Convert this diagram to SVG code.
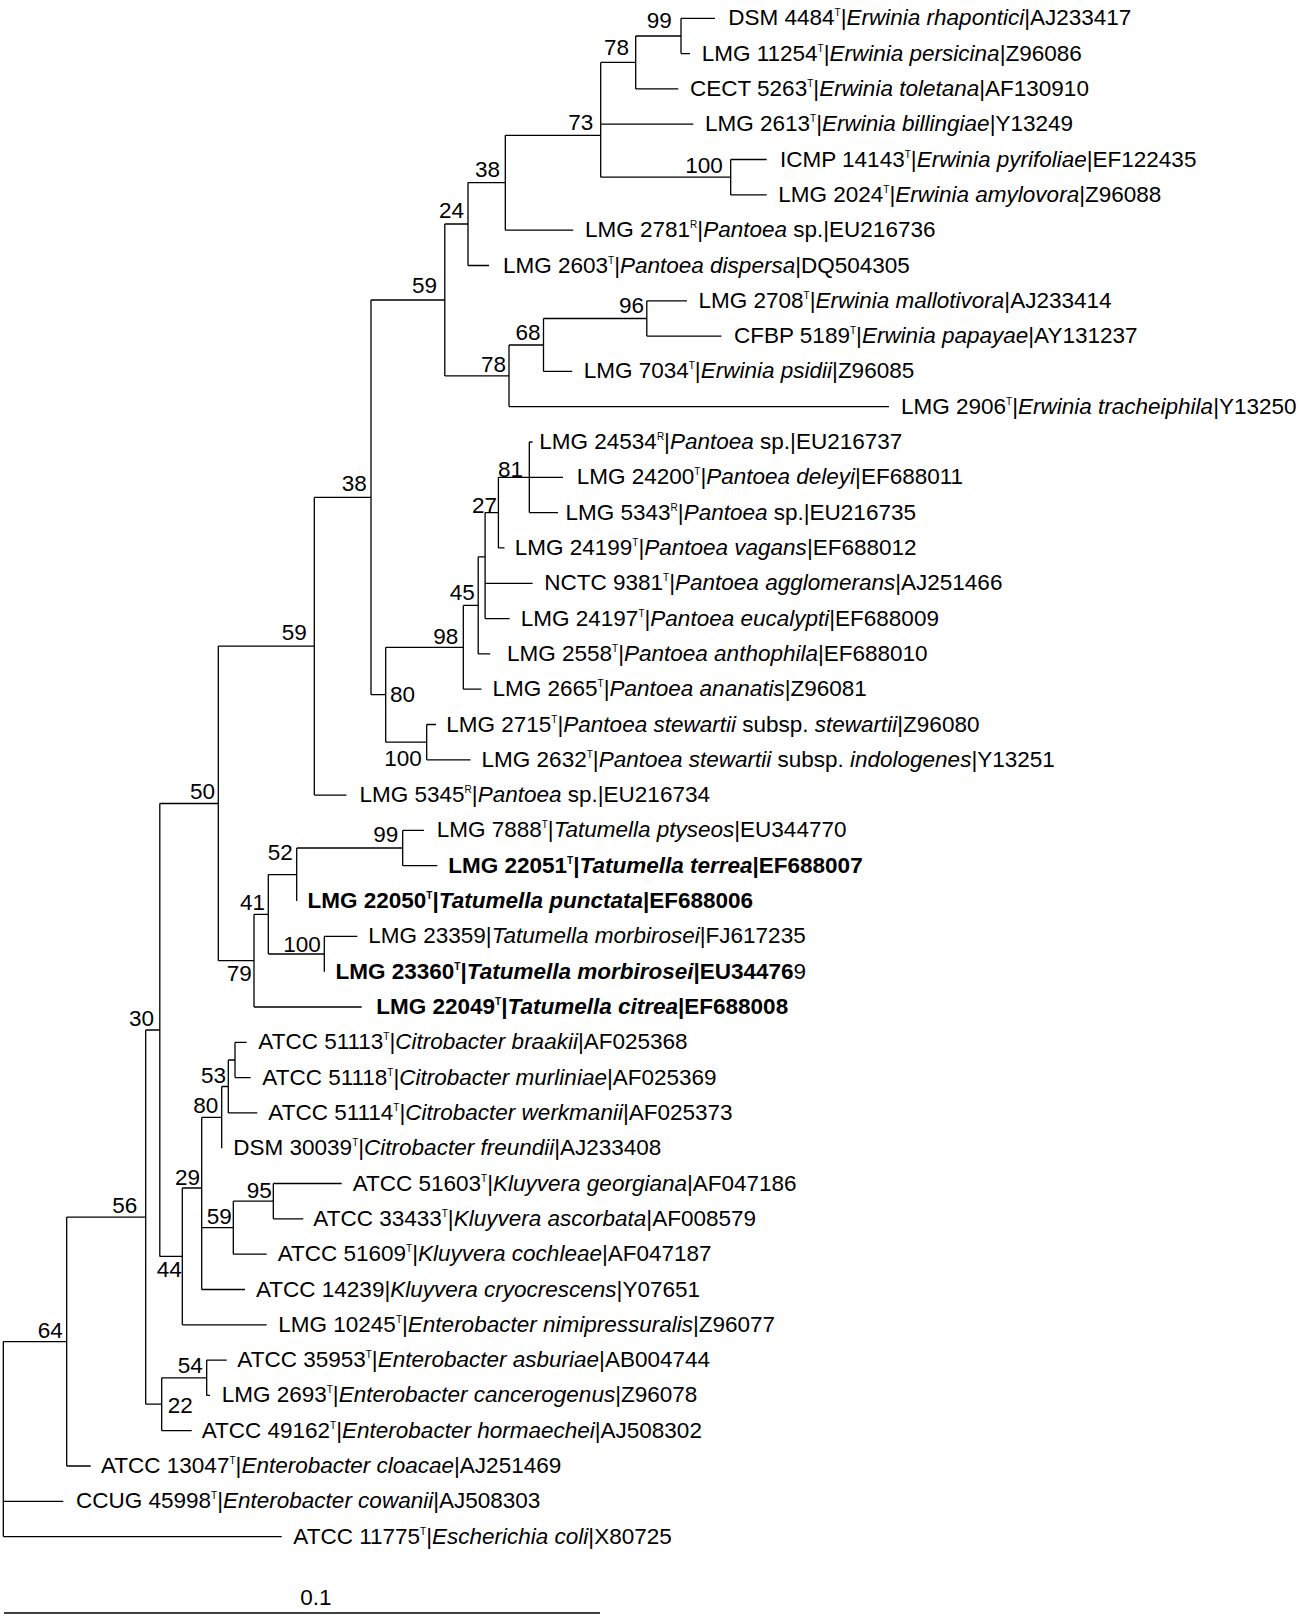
<svg xmlns="http://www.w3.org/2000/svg" width="1302" height="1620" viewBox="0 0 1302 1620">
<style>
text{font-family:"Liberation Sans",Arial,sans-serif;font-size:22.5px;fill:#000}
.s{font-size:10px}
.i{font-style:italic}
.b{font-weight:bold}
.bs{text-anchor:end}
#connectors path{stroke:#000;stroke-width:1.3;fill:none}
</style>
<rect width="1302" height="1620" fill="#fff"/>
<g id="connectors">
<path d="M3.3 1341.6V1536.6M3.3 1341.6H66.7M3.3 1501.3H63.3M3.3 1536.6H281.7"/>
<path d="M66.7 1217.1V1466M66.7 1217.1H145.7M66.7 1466H90.7"/>
<path d="M145.7 1030V1404.2M145.7 1030H159.8M145.7 1404.2H161.7"/>
<path d="M159.8 803.5V1256.4M159.8 803.5H218.3M159.8 1256.4H182.3"/>
<path d="M218.3 646.2V960.7M218.3 646.2H314.3M218.3 960.7H254"/>
<path d="M314.3 497.4V795.1M314.3 497.4H371M314.3 795.1H346.5"/>
<path d="M371 300V694.7M371 300H444.8M371 694.7H385.7"/>
<path d="M444.8 224V375.9M444.8 224H468M444.8 375.9H509"/>
<path d="M468 182.6V265.5M468 182.6H505.3M468 265.5H489"/>
<path d="M505.3 135.3V230.2M505.3 135.3H600.7M505.3 230.2H573.3"/>
<path d="M600.7 62.4V177.2M600.7 62.4H635.7M600.7 124.2H693.3M600.7 177.2H730.7"/>
<path d="M635.7 36V88.9M635.7 36H681M635.7 88.9H678.3"/>
<path d="M681 18.3V53.6M681 18.3H715M681 53.6H690"/>
<path d="M730.7 159.5V194.9M730.7 159.5H766.7M730.7 194.9H766.7"/>
<path d="M509 345V406.7M509 345H543.5M509 406.7H889"/>
<path d="M543.5 318.5V371.4M543.5 318.5H646.8M543.5 371.4H572.2"/>
<path d="M646.8 300.8V336.1M646.8 300.8H687M646.8 336.1H721.5"/>
<path d="M385.7 647.3V742.2M385.7 647.3H463.3M385.7 742.2H426.7"/>
<path d="M463.3 605.4V689.2M463.3 605.4H478.2M463.3 689.2H481.5"/>
<path d="M478.2 556.8V653.9M478.2 556.8H485.1M478.2 653.9H490.2"/>
<path d="M485.1 512.6V618.6M485.1 512.6H498.4M485.1 583.3H532.6M485.1 618.6H509.6"/>
<path d="M498.4 477.3V547.9M498.4 477.3H529.3M498.4 547.9H504.5"/>
<path d="M529.3 442V512.6M529.3 442H532.6M529.3 477.3H563M529.3 512.6H558"/>
<path d="M426.7 724.5V759.8M426.7 724.5H436M426.7 759.8H470.5"/>
<path d="M254 914.3V1007M254 914.3H268.3M254 1007H361.7"/>
<path d="M268.3 874.6V954M268.3 874.6H296.7M268.3 954H324.3"/>
<path d="M296.7 848V901.1M296.7 848H402.7"/>
<path d="M402.7 830.4V865.7M402.7 830.4H424M402.7 865.7H437.3"/>
<path d="M324.3 936.4V971.7M324.3 936.4H357.3"/>
<path d="M182.3 1188V1324.8M182.3 1188H201.7M182.3 1324.8H266.7"/>
<path d="M201.7 1117.4V1289.5M201.7 1117.4H221.7M201.7 1227.7H233.3M201.7 1289.5H245"/>
<path d="M221.7 1086.5V1148.2M221.7 1086.5H228.3"/>
<path d="M228.3 1060V1112.9M228.3 1060H235M228.3 1112.9H257.3"/>
<path d="M235 1042.3V1077.6M235 1042.3H246.7M235 1077.6H250.7"/>
<path d="M233.3 1201.2V1254.2M233.3 1201.2H273.3M233.3 1254.2H266.7"/>
<path d="M273.3 1183.5V1218.8M273.3 1183.5H341.7M273.3 1218.8H303.3"/>
<path d="M161.7 1377.8V1430.7M161.7 1377.8H206.7M161.7 1430.7H191.7"/>
<path d="M206.7 1360.1V1395.4M206.7 1360.1H226.7M206.7 1395.4H210"/>
<path d="M4 1613H600"/>
</g>
<g id="bootstrap">
<text class="bs" x="671.7" y="28.3">99</text>
<text class="bs" x="629" y="55">78</text>
<text class="bs" x="593.3" y="130">73</text>
<text class="bs" x="722.7" y="173.3">100</text>
<text class="bs" x="500" y="176.7">38</text>
<text class="bs" x="464" y="218.3">24</text>
<text class="bs" x="437" y="293">59</text>
<text class="bs" x="644" y="313.3">96</text>
<text class="bs" x="540.6" y="340">68</text>
<text class="bs" x="506" y="371.7">78</text>
<text class="bs" x="366.7" y="490.7">38</text>
<text class="bs" x="523" y="477">81</text>
<text class="bs" x="497" y="512.7">27</text>
<text class="bs" x="474.9" y="600">45</text>
<text class="bs" x="458.3" y="644">98</text>
<text class="bs" x="415" y="701.7">80</text>
<text class="bs" x="421.7" y="765.7">100</text>
<text class="bs" x="306.7" y="640">59</text>
<text class="bs" x="215" y="799">50</text>
<text class="bs" x="398.3" y="842">99</text>
<text class="bs" x="292.7" y="860">52</text>
<text class="bs" x="265" y="910">41</text>
<text class="bs" x="320.7" y="951.7">100</text>
<text class="bs" x="251.7" y="981">79</text>
<text class="bs" x="154" y="1025.7">30</text>
<text class="bs" x="226" y="1083.3">53</text>
<text class="bs" x="218.3" y="1113.3">80</text>
<text class="bs" x="200" y="1185">29</text>
<text class="bs" x="271.7" y="1198.3">95</text>
<text class="bs" x="231.7" y="1224">59</text>
<text class="bs" x="181.7" y="1277.3">44</text>
<text class="bs" x="137.3" y="1213.3">56</text>
<text class="bs" x="62.7" y="1337.7">64</text>
<text class="bs" x="202.7" y="1373.3">54</text>
<text class="bs" x="192.7" y="1412.7">22</text>
</g>
<g id="leaf-0"><text x="728.3" y="25.3">DSM 4484<tspan class="s" dy="-9">T</tspan><tspan dy="9">|</tspan><tspan class="i">Erwinia rhapontici</tspan>|AJ233417</text></g>
<g id="leaf-1"><text x="701.7" y="60.6">LMG 11254<tspan class="s" dy="-9">T</tspan><tspan dy="9">|</tspan><tspan class="i">Erwinia persicina</tspan>|Z96086</text></g>
<g id="leaf-2"><text x="690" y="95.9">CECT 5263<tspan class="s" dy="-9">T</tspan><tspan dy="9">|</tspan><tspan class="i">Erwinia toletana</tspan>|AF130910</text></g>
<g id="leaf-3"><text x="705" y="131.2">LMG 2613<tspan class="s" dy="-9">T</tspan><tspan dy="9">|</tspan><tspan class="i">Erwinia billingiae</tspan>|Y13249</text></g>
<g id="leaf-4"><text x="780" y="166.5">ICMP 14143<tspan class="s" dy="-9">T</tspan><tspan dy="9">|</tspan><tspan class="i">Erwinia pyrifoliae</tspan>|EF122435</text></g>
<g id="leaf-5"><text x="778.3" y="201.9">LMG 2024<tspan class="s" dy="-9">T</tspan><tspan dy="9">|</tspan><tspan class="i">Erwinia amylovora</tspan>|Z96088</text></g>
<g id="leaf-6"><text x="585" y="237.2">LMG 2781<tspan class="s" dy="-9">R</tspan><tspan dy="9">|</tspan><tspan class="i">Pantoea</tspan> sp.|EU216736</text></g>
<g id="leaf-7"><text x="503" y="272.5">LMG 2603<tspan class="s" dy="-9">T</tspan><tspan dy="9">|</tspan><tspan class="i">Pantoea dispersa</tspan>|DQ504305</text></g>
<g id="leaf-8"><text x="698.5" y="307.8">LMG 2708<tspan class="s" dy="-9">T</tspan><tspan dy="9">|</tspan><tspan class="i">Erwinia mallotivora</tspan>|AJ233414</text></g>
<g id="leaf-9"><text x="734" y="343.1">CFBP 5189<tspan class="s" dy="-9">T</tspan><tspan dy="9">|</tspan><tspan class="i">Erwinia papayae</tspan>|AY131237</text></g>
<g id="leaf-10"><text x="583.7" y="378.4">LMG 7034<tspan class="s" dy="-9">T</tspan><tspan dy="9">|</tspan><tspan class="i">Erwinia psidii</tspan>|Z96085</text></g>
<g id="leaf-11"><text x="901" y="413.7">LMG 2906<tspan class="s" dy="-9">T</tspan><tspan dy="9">|</tspan><tspan class="i">Erwinia tracheiphila</tspan>|Y13250</text></g>
<g id="leaf-12"><text x="539.3" y="449">LMG 24534<tspan class="s" dy="-9">R</tspan><tspan dy="9">|</tspan><tspan class="i">Pantoea</tspan> sp.|EU216737</text></g>
<g id="leaf-13"><text x="576.7" y="484.3">LMG 24200<tspan class="s" dy="-9">T</tspan><tspan dy="9">|</tspan><tspan class="i">Pantoea deleyi</tspan>|EF688011</text></g>
<g id="leaf-14"><text x="565.5" y="519.6">LMG 5343<tspan class="s" dy="-9">R</tspan><tspan dy="9">|</tspan><tspan class="i">Pantoea</tspan> sp.|EU216735</text></g>
<g id="leaf-15"><text x="514.7" y="554.9">LMG 24199<tspan class="s" dy="-9">T</tspan><tspan dy="9">|</tspan><tspan class="i">Pantoea vagans</tspan>|EF688012</text></g>
<g id="leaf-16"><text x="544.3" y="590.3">NCTC 9381<tspan class="s" dy="-9">T</tspan><tspan dy="9">|</tspan><tspan class="i">Pantoea agglomerans</tspan>|AJ251466</text></g>
<g id="leaf-17"><text x="520.8" y="625.6">LMG 24197<tspan class="s" dy="-9">T</tspan><tspan dy="9">|</tspan><tspan class="i">Pantoea eucalypti</tspan>|EF688009</text></g>
<g id="leaf-18"><text x="507" y="660.9">LMG 2558<tspan class="s" dy="-9">T</tspan><tspan dy="9">|</tspan><tspan class="i">Pantoea anthophila</tspan>|EF688010</text></g>
<g id="leaf-19"><text x="492.5" y="696.2">LMG 2665<tspan class="s" dy="-9">T</tspan><tspan dy="9">|</tspan><tspan class="i">Pantoea ananatis</tspan>|Z96081</text></g>
<g id="leaf-20"><text x="446.3" y="731.5">LMG 2715<tspan class="s" dy="-9">T</tspan><tspan dy="9">|</tspan><tspan class="i">Pantoea stewartii</tspan> subsp. <tspan class="i">stewartii</tspan>|Z96080</text></g>
<g id="leaf-21"><text x="481.6" y="766.8">LMG 2632<tspan class="s" dy="-9">T</tspan><tspan dy="9">|</tspan><tspan class="i">Pantoea stewartii</tspan> subsp. <tspan class="i">indologenes</tspan>|Y13251</text></g>
<g id="leaf-22"><text x="359.5" y="802.1">LMG 5345<tspan class="s" dy="-9">R</tspan><tspan dy="9">|</tspan><tspan class="i">Pantoea</tspan> sp.|EU216734</text></g>
<g id="leaf-23"><text x="436.7" y="837.4">LMG 7888<tspan class="s" dy="-9">T</tspan><tspan dy="9">|</tspan><tspan class="i">Tatumella ptyseos</tspan>|EU344770</text></g>
<g id="leaf-24"><text class="b" x="448.3" y="872.7">LMG 22051<tspan class="s" dy="-9">T</tspan><tspan dy="9">|</tspan><tspan class="i">Tatumella terrea</tspan>|EF688007</text></g>
<g id="leaf-25"><text class="b" x="307.5" y="908.1">LMG 22050<tspan class="s" dy="-9">T</tspan><tspan dy="9">|</tspan><tspan class="i">Tatumella punctata</tspan>|EF688006</text></g>
<g id="leaf-26"><text x="368.3" y="943.4">LMG 23359|<tspan class="i">Tatumella morbirosei</tspan>|FJ617235</text></g>
<g id="leaf-27"><text x="335.5" y="978.7"><tspan class="b">LMG 23360</tspan><tspan class="s b" dy="-9">T</tspan><tspan class="b" dy="9">|</tspan><tspan class="b i">Tatumella morbirosei</tspan><tspan class="b">|EU34476</tspan>9</text></g>
<g id="leaf-28"><text class="b" x="376.3" y="1014">LMG 22049<tspan class="s" dy="-9">T</tspan><tspan dy="9">|</tspan><tspan class="i">Tatumella citrea</tspan>|EF688008</text></g>
<g id="leaf-29"><text x="258.3" y="1049.3">ATCC 51113<tspan class="s" dy="-9">T</tspan><tspan dy="9">|</tspan><tspan class="i">Citrobacter braakii</tspan>|AF025368</text></g>
<g id="leaf-30"><text x="262.3" y="1084.6">ATCC 51118<tspan class="s" dy="-9">T</tspan><tspan dy="9">|</tspan><tspan class="i">Citrobacter murliniae</tspan>|AF025369</text></g>
<g id="leaf-31"><text x="268.3" y="1119.9">ATCC 51114<tspan class="s" dy="-9">T</tspan><tspan dy="9">|</tspan><tspan class="i">Citrobacter werkmanii</tspan>|AF025373</text></g>
<g id="leaf-32"><text x="233.3" y="1155.2">DSM 30039<tspan class="s" dy="-9">T</tspan><tspan dy="9">|</tspan><tspan class="i">Citrobacter freundii</tspan>|AJ233408</text></g>
<g id="leaf-33"><text x="352.7" y="1190.5">ATCC 51603<tspan class="s" dy="-9">T</tspan><tspan dy="9">|</tspan><tspan class="i">Kluyvera georgiana</tspan>|AF047186</text></g>
<g id="leaf-34"><text x="313.3" y="1225.8">ATCC 33433<tspan class="s" dy="-9">T</tspan><tspan dy="9">|</tspan><tspan class="i">Kluyvera ascorbata</tspan>|AF008579</text></g>
<g id="leaf-35"><text x="277.7" y="1261.2">ATCC 51609<tspan class="s" dy="-9">T</tspan><tspan dy="9">|</tspan><tspan class="i">Kluyvera cochleae</tspan>|AF047187</text></g>
<g id="leaf-36"><text x="256" y="1296.5">ATCC 14239|<tspan class="i">Kluyvera cryocrescens</tspan>|Y07651</text></g>
<g id="leaf-37"><text x="278.3" y="1331.8">LMG 10245<tspan class="s" dy="-9">T</tspan><tspan dy="9">|</tspan><tspan class="i">Enterobacter nimipressuralis</tspan>|Z96077</text></g>
<g id="leaf-38"><text x="237.3" y="1367.1">ATCC 35953<tspan class="s" dy="-9">T</tspan><tspan dy="9">|</tspan><tspan class="i">Enterobacter asburiae</tspan>|AB004744</text></g>
<g id="leaf-39"><text x="221.7" y="1402.4">LMG 2693<tspan class="s" dy="-9">T</tspan><tspan dy="9">|</tspan><tspan class="i">Enterobacter cancerogenus</tspan>|Z96078</text></g>
<g id="leaf-40"><text x="201.7" y="1437.7">ATCC 49162<tspan class="s" dy="-9">T</tspan><tspan dy="9">|</tspan><tspan class="i">Enterobacter hormaechei</tspan>|AJ508302</text></g>
<g id="leaf-41"><text x="101" y="1473">ATCC 13047<tspan class="s" dy="-9">T</tspan><tspan dy="9">|</tspan><tspan class="i">Enterobacter cloacae</tspan>|AJ251469</text></g>
<g id="leaf-42"><text x="76" y="1508.3">CCUG 45998<tspan class="s" dy="-9">T</tspan><tspan dy="9">|</tspan><tspan class="i">Enterobacter cowanii</tspan>|AJ508303</text></g>
<g id="leaf-43"><text x="293.3" y="1543.6">ATCC 11775<tspan class="s" dy="-9">T</tspan><tspan dy="9">|</tspan><tspan class="i">Escherichia coli</tspan>|X80725</text></g>
<g id="scale"><text x="316" y="1605" text-anchor="middle">0.1</text></g>
</svg>
